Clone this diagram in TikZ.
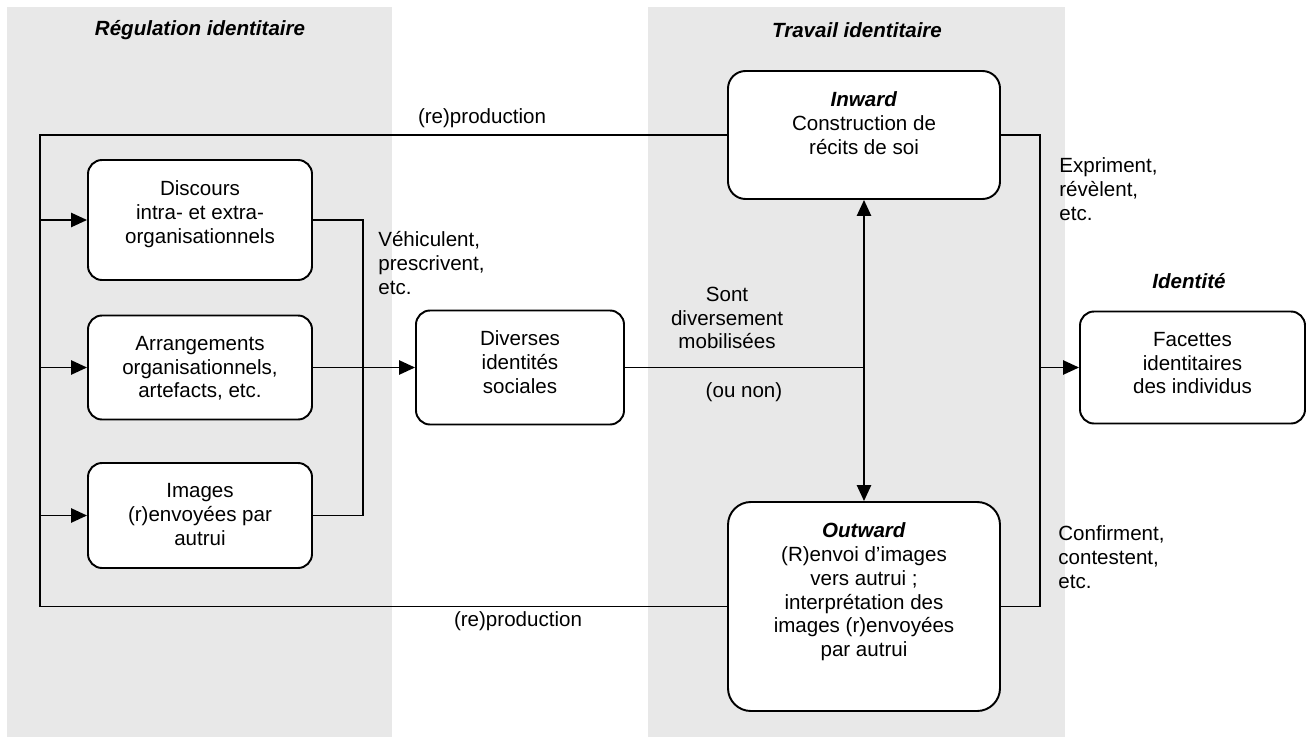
\documentclass[tikz,border=0pt]{standalone}
\usepackage{fontspec}
\setmainfont{Liberation Sans}
\usetikzlibrary{arrows.meta,positioning}
\definecolor{panelgray}{RGB}{232,232,232}

\def\pxu{0.02cm}

\begin{document}
\begin{tikzpicture}[x=\pxu, y=-\pxu,
  font=\fontsize{11.7}{13.6}\selectfont,
  box/.style={draw, line width=1.1pt, fill=white, rounded corners=8pt},
  boxsize/.style 2 args={minimum width=#1*\pxu, minimum height=#2*\pxu},
  boxtext/.style={align=center, inner sep=0pt},
  tag/.style={align=left, inner sep=0pt, anchor=north west},
  title/.style={font=\fontsize{11.7}{13.6}\selectfont\bfseries\itshape},
  link/.style={line width=1.1pt},
  flow/.style={line width=1.1pt, -{Triangle[length=9pt,width=8pt]}}]
 % page
 \useasboundingbox (0,0) rectangle (1311,740);
 % Panels
 \fill[panelgray] (7,7) rectangle (392,737);
 \fill[panelgray] (648,7) rectangle (1065,737);
 % Titles
 \node[title] (t-reg) at (200,30) {Régulation identitaire};
 \node[title] (t-trav) at (857,30) {Travail identitaire};
 \node[title] (t-id) at (1189,281) {Identité};
 % Boxes
 \node[box, boxsize={224}{120}] (disc) at (200,220) {};
 \node[box, boxsize={224}{104}] (arrg) at (200,367.5) {};
 \node[box, boxsize={224}{105}] (imgs) at (200,515.5) {};
 \node[box, boxsize={208}{114}] (div) at (520,367.5) {};
 \node[box, boxsize={272}{128}, rounded corners=10pt] (inw) at (864,135) {};
 \node[box, boxsize={272}{209}, rounded corners=13pt] (outw) at (864,606.5) {};
 \node[box, boxsize={225}{112}] (fac) at (1192.5,367.5) {};
 % Box texts
 \node[boxtext, below=12pt of disc.north] (disc-t) {Discours\\intra- et extra-\\organisationnels};
 \node[boxtext, below=12pt of arrg.north] (arrg-t) {Arrangements\\organisationnels,\\artefacts, etc.};
 \node[boxtext, below=12pt of imgs.north] (imgs-t) {Images\\(r)envoyées par\\autrui};
 \node[boxtext, below=12pt of div.north] (div-t) {Diverses\\identités\\sociales};
 \node[boxtext, below=12pt of inw.north] (inw-t) {\textbf{\textit{Inward}}\\Construction de\\récits de soi};
 \node[boxtext, below=12pt of outw.north] (outw-t) {\textbf{\textit{Outward}}\\(R)envoi d’images\\vers autrui ;\\interprétation des\\images (r)envoyées\\par autrui};
 \node[boxtext, below=12pt of fac.north] (fac-t) {Facettes\\identitaires\\des individus};
 % (re)production loop
 \coordinate (lt) at (40,135);
 \draw[link] (inw.west) -- (lt) -- (lt |- outw.west) -- (outw.west);
 \foreach \n in {disc,arrg,imgs}
  \draw[flow] (lt |- \n.west) -- (\n.west);
 % Collector
 \coordinate (cx) at (363,0);
 \draw[link] (disc.east) -- (cx |- disc.east) -- (cx |- imgs.east) -- (imgs.east);
 \draw[flow] (arrg.east) -- (div.west);
 % Mobilisation
 \coordinate (mob) at (inw.south |- div.east);
 \draw[link] (div.east) -- (mob);
 \draw[flow] (mob) -- (inw.south);
 \draw[flow] (mob) -- (outw.north);
 % Towards identity
 \coordinate (rx) at (1040,0);
 \draw[link] (inw.east) -- (rx |- inw.east) -- (rx |- outw.east) -- (outw.east);
 \draw[flow] (rx |- fac.west) -- (fac.west);
 % Labels
 \node (rep-top) at (482,118) {(re)production};
 \node (rep-bot) at (518,621) {(re)production};
 \node[tag] (veh) at (378,231) {Véhiculent,\\prescrivent,\\etc.};
 \node[align=center] (mobl) at (727,318) {Sont\\diversement\\mobilisées};
 \node (ounon) at (744,392) {(ou non)};
 \node[tag] (expr) at (1059,157) {Expriment,\\révèlent,\\etc.};
 \node[tag] (conf) at (1058,525) {Confirment,\\contestent,\\etc.};
\end{tikzpicture}
\end{document}
